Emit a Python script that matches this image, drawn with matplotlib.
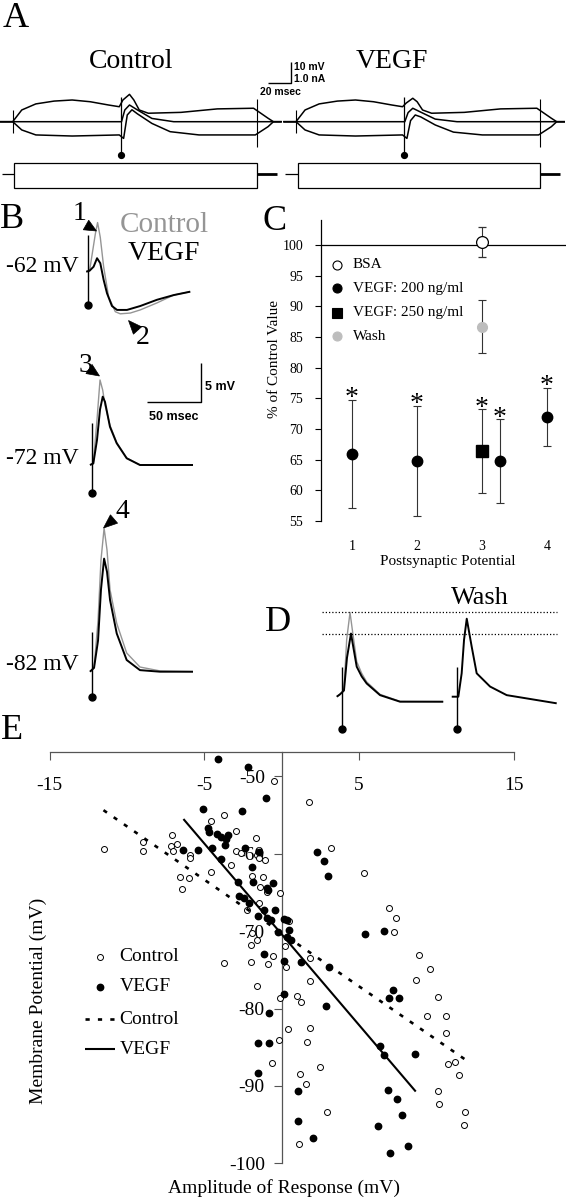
import numpy as np
import matplotlib
matplotlib.use('Agg')
import matplotlib.pyplot as plt
from matplotlib.patches import Rectangle, Polygon

plt.rcParams['font.family'] = ['Liberation Serif', 'DejaVu Serif']
plt.rcParams['axes.unicode_minus'] = False
plt.rcParams['lines.solid_capstyle'] = 'butt'

W, H = 566, 1200
GRAY = '#959595'
SANS = ['Liberation Sans', 'DejaVu Sans']

# ---------------- data ----------------
# A: responses to current steps (ms, mV re. rest)
a_up_t = [-10.8, 0, 7.7, 19.7, 35.2, 50.6, 66.0, 81.5, 90.7, 93.8, 99.4, 103.1, 107.7, 115.4, 143.2, 174.1, 205.0, 217.3, 221.9, 229]
a_up_ctl = [0, 0, 5.4, 8.2, 9.5, 10.0, 9.2, 7.7, 6.9, 10.0, 12.6, 10.0, 5.4, 3.9, 4.3, 5.9, 6.2, 1.6, 0, 0]
a_up_vegf = [0, 0, 5.4, 8.2, 9.5, 10.0, 9.2, 7.7, 6.9, 8.6, 10.8, 9.2, 5.4, 3.9, 4.3, 5.9, 6.2, 1.6, 0, 0]
a_mid_t = [-10.8, 92.6, 95.4, 99.4, 106.2, 118.5, 137, 229]
a_mid_ctl = [0, 0, 5.4, 7.7, 5.4, 1.5, 0, 0]
a_mid_vegf = [0, 0, 4.2, 6.2, 4.4, 1.2, 0, 0]
a_lo_t = [-10.8, 0, 7.7, 19.7, 50.6, 90.7, 94.4, 97.5, 101.5, 106.2, 118.5, 134, 158.6, 206.5, 217.3, 221.9, 229]
a_lo_ctl = [0, 0, -3.8, -6.1, -6.6, -6.1, -7.7, 3.1, 5.5, 3.6, -0.8, -4.6, -6.1, -6.1, -2.3, 0, 0]
a_lo_vegf = [0, 0, -3.8, -6.1, -6.6, -6.1, -7.7, 0.5, 3.1, 2.2, -1.5, -4.8, -6.1, -6.1, -2.3, 0, 0]
a_stim_t = 92.3
a_step_end = 207.9

# B: PSPs at three holding potentials (ms, mV re. baseline)
b1_t_ctl = [-1.9, 1.2, 6.5, 8.6, 11.1, 14.2, 18.8, 25.0, 29.6, 38.9, 48.1, 63.6, 79.0, 94.4]
b1_v_ctl = [0, 0.13, 4.83, 6.3, 4.4, 0.64, -3.2, -5.13, -5.4, -5.3, -4.9, -4.0, -3.0, -2.56]
b1_t_vegf = [-1.9, 1.2, 4.9, 8.1, 11.1, 14.2, 17.3, 21.9, 26.6, 35.8, 48.1, 63.6, 79.0, 94.4]
b1_v_vegf = [0, 0.13, 0.64, 1.73, 1.09, -1.05, -2.76, -4.4, -4.9, -4.9, -4.4, -3.6, -3.0, -2.56]
b2_t = [-1.6, 1.5, 4.9, 7.7, 10.2, 12.3, 16.9, 23.1, 32.4, 44.7, 93.8]
b2_v_ctl = [0, 0.2, 5.8, 10.9, 9.6, 7.7, 5.1, 2.9, 0.9, 0, 0]
b2_v_vegf = [0, 0.2, 3.2, 7.1, 8.76, 8.1, 4.9, 2.8, 0.86, 0, 0]
b3_t = [-1.9, 1.9, 5.6, 8.3, 11.2, 13.9, 16.7, 22.9, 32.1, 44.4, 63.0, 93.5]
b3_v_ctl = [0, 0.5, 6.6, 14.3, 18.4, 15.6, 10.5, 6.2, 2.4, 0.6, 0.1, 0]
b3_v_vegf = [0, 0.5, 4.0, 10.5, 14.5, 12.8, 9.2, 4.9, 1.5, 0.2, 0, 0]
b_labels = ['-62 mV', '-72 mV', '-82 mV']

# C: % of control value
c_psp = [1, 2, 3, 4]
c_vegf200 = [66.0, 64.8, 64.8, 72.0]
c_vegf200_err = [8.8, 9.0, 6.8, 4.7]
c_vegf250_psp = [3]
c_vegf250 = [66.4]
c_vegf250_err = [6.8]
c_bsa_psp = [3]
c_bsa = [100.5]
c_bsa_err = [2.5]
c_wash_psp = [3]
c_wash = [86.7]
c_wash_err = [4.3]

# D: wash-out
d_t_ctl = [-4.6, -1.6, 2.1, 4.6, 7.7, 10.7, 13.9, 18.5, 23.1, 35.5, 54.0, 94.0]
d_v_ctl = [0, 0.3, 0.8, 7.3, 10.8, 7.7, 4.5, 3.0, 1.9, 0.3, -0.6, -0.64]
d_t_vegf = [-4.6, -1.6, 2.1, 4.9, 8.6, 10.7, 13.9, 18.5, 23.1, 35.5, 54.0, 94.0]
d_v_vegf = [0, 0.3, 0.8, 5.0, 8.1, 6.4, 3.85, 2.6, 1.7, 0.2, -0.64, -0.64]
d_t_wash = [-4.6, 1.5, 4.6, 6.8, 9.3, 13.9, 18.5, 30.9, 46.3, 92.6]
d_v_wash = [0, 0, 3.0, 7.3, 10.0, 6.4, 3.0, 1.3, 0.2, -0.85]

# E: amplitude vs membrane potential
ctl_amp = [-0.51, 1.80, -11.47, -8.93, -8.97, -7.11, -7.15, -6.76, -6.99, -5.94, -5.94, -6.57, -5.99, -6.41,
           -4.55, -3.73, -2.92, -4.59, -3.27, -2.96, -2.61, -1.63, -1.59, -1.45, -1.05, -1.91, -1.21, -1.40,
           -0.93, -0.12, -2.22, -1.47, 0.47, 0.23, -1.98, -1.59, -1.91, 1.82, -3.73, -1.98, -0.89, 3.22,
           5.36, 6.95, 7.41, 7.27, 8.86, 9.60, -0.58, 0.30, -1.56, 1.87, -0.12, 0.98, 1.28, 8.69, 10.09,
           9.39, 10.65, 10.61, 0.42, 1.82, -0.16, 1.63, -0.63, 2.52, 1.17, 1.59, 10.79, 11.19, 11.49,
           10.14, 10.21, 2.92, 11.84, 11.77, 1.12]
ctl_vm = [-50.6, -53.3, -59.4, -58.5, -59.6, -57.6, -59.0, -58.7, -59.6, -60.2, -60.6, -63.0, -63.1, -64.5,
          -55.7, -55.0, -57.1, -62.3, -61.5, -59.6, -59.9, -57.9, -60.2, -60.5, -60.8, -62.9, -63.0, -64.3,
          -64.9, -65.0, -67.3, -66.3, -68.7, -71.9, -71.8, -71.1, -70.2, -73.4, -74.1, -74.0, -74.3, -59.2,
          -62.5, -67.0, -68.3, -70.1, -73.1, -74.9, -73.2, -74.6, -77.1, -76.4, -78.6, -78.4, -79.2, -76.3, -78.5,
          -81.0, -81.0, -83.1, -82.7, -82.5, -84.1, -84.3, -87.1, -87.5, -88.5, -89.8, -87.2, -86.9, -88.6,
          -90.6, -92.3, -93.4, -93.4, -95.0, -97.5]
vegf_amp = [-4.13, -2.15, -0.98, -5.08, -2.56, -4.77, -4.66, -4.19, -3.91, -3.60, -3.44, -3.67, -6.34, -5.41,
            -4.49, -2.36, -1.43, -3.89, -1.90, -2.83, -1.85, -0.96, -0.87, -0.52, -2.74, -2.43, -2.13, -1.54,
            -1.15, -0.91, -0.68, -0.45, 0.14, 0.37, -0.21, 0.49, 0.33, 0.61, 2.32, 2.78, 3.00, 5.40, 6.62,
            -1.15, 0.14, 3.06, 1.26, 7.23, 6.93, 7.58, 0.19, 2.90, -0.80, -1.55, -0.80, 6.34, 6.62, 8.61,
            -1.55, 1.08, 6.86, 7.46, 7.82, 1.08, 6.22, 2.06, 8.17, 7.04]
vegf_vm = [-47.8, -48.8, -52.8, -54.2, -54.4, -56.6, -57.2, -57.4, -57.8, -58.1, -57.6, -58.8, -59.5, -59.5,
           -59.2, -59.2, -59.8, -60.7, -61.7, -63.7, -63.7, -64.4, -64.7, -63.8, -65.5, -65.7, -66.3, -68.0,
           -67.2, -68.3, -68.6, -67.2, -68.4, -68.6, -70.1, -69.9, -70.8, -71.2, -59.8, -60.9, -62.9, -70.3, -70.0,
           -73.0, -73.9, -74.6, -74.0, -77.6, -78.6, -78.6, -78.1, -79.7, -80.6, -84.4, -84.5, -84.8, -86.0, -85.9,
           -88.3, -90.6, -90.5, -91.7, -93.7, -94.5, -95.2, -96.7, -97.7, -98.7]
ctl_fit = (-1.378, -70.22, -11.51, 11.96)   # slope, intercept, x from, x to
vegf_fit = (-2.345, -70.37, -6.34, 8.68)

# ---------------- figure ----------------
fig = plt.figure(figsize=(W / 100, H / 100), dpi=100)


def px_axes(x0, y0, x1, y1):
    ax = fig.add_axes([x0 / W, 1 - y1 / H, (x1 - x0) / W, (y1 - y0) / H])
    ax.patch.set_visible(False)
    return ax


def trace_axes(t0_px, base_py, tlim, vlim, px_ms, px_mv):
    ax = px_axes(t0_px + tlim[0] * px_ms, base_py - vlim[1] * px_mv,
                 t0_px + tlim[1] * px_ms, base_py - vlim[0] * px_mv)
    ax.set_xlim(tlim)
    ax.set_ylim(vlim)
    ax.axis('off')
    return ax


# ---- A ----
for t0, up, mid, lo in [(12.7, a_up_ctl, a_mid_ctl, a_lo_ctl),
                        (296.0, a_up_vegf, a_mid_vegf, a_lo_vegf)]:
    ax = trace_axes(t0, 121.7, (-10.8, 229.2), (-33.8, 16.9), 1.175, 2.17)
    ax.plot(a_up_t, up, color='k', lw=1.1)
    ax.plot(a_mid_t, mid, color='k', lw=1.1)
    ax.plot(a_lo_t, lo, color='k', lw=1.1)
    ax.plot([0, 0], [5.4, -5.3], color='k', lw=0.8)
    ax.plot([a_stim_t, a_stim_t], [11.5, -15.3], color='k', lw=0.9)
    ax.plot([a_stim_t], [-15.3], 'o', color='k', ms=4.2)
    ax.plot([a_step_end, a_step_end], [10.4, -11.5], color='k', lw=0.8)
    ax.add_patch(Rectangle((1.5, -30.7), a_step_end - 1.5, 11.8, fill=False, lw=0.9, ec='k'))
    ax.plot([-9.3, 1.5], [-24.1, -24.1], color='k', lw=0.9)
    ax.plot([a_step_end, 224.9], [-24.1, -24.1], color='k', lw=2.0)
    if t0 < 100:
        ax.plot([217.1, 237.1, 237.1], [17.7, 17.7, 27.7], color='k', lw=1.0, clip_on=False)

# ---- B ----
b_sets = [(88.3, 271.7, (-7, 8), b1_t_ctl, b1_v_ctl, b1_t_vegf, b1_v_vegf, (4.7, -4.3)),
          (91.7, 465.0, (-5, 13), b2_t, b2_v_ctl, b2_t, b2_v_vegf, (5.4, -3.6)),
          (92.0, 671.7, (-5, 20), b3_t, b3_v_ctl, b3_t, b3_v_vegf, (5.1, -3.2))]
for i, (sx, by, vlim, tc, vc, tv, vv, art) in enumerate(b_sets):
    ax = trace_axes(sx, by, (-10, 110), vlim, 1.08, 7.8)
    ax.plot(tc, vc, color=GRAY, lw=1.0)
    ax.plot(tv, vv, color='k', lw=1.4)
    ax.plot([0, 0], art, color='k', lw=1.0)
    ax.plot([0], [art[1]], 'o', color='k', ms=5)
    if i == 1:
        ax.plot([51.2, 101.2, 101.2], [8.1, 8.1, 13.1], color='k', lw=1.0, clip_on=False)

# ---- C ----
ax_c = px_axes(320.7, 220, 566, 521)
ax_c.set_xlim(0.518, 4.292)
ax_c.set_ylim(55, 104.1)
for s in ['top', 'right', 'bottom']:
    ax_c.spines[s].set_visible(False)
ax_c.spines['left'].set_linewidth(0.9)
ax_c.axhline(100, color='k', lw=0.9)
dodge = [0, 0, 0.27, 0]
x200 = [p + d for p, d in zip(c_psp, dodge)]
ebkw = dict(ecolor='#333333', elinewidth=0.8, capsize=3, capthick=0.8, ls='none')
ax_c.errorbar(x200, c_vegf200, yerr=c_vegf200_err, marker='o', ms=7.5, mfc='k', mec='k', **ebkw)
ax_c.errorbar(c_vegf250_psp, c_vegf250, yerr=c_vegf250_err, marker='s', ms=8, mfc='k', mec='k', **ebkw)
ax_c.errorbar(c_bsa_psp, c_bsa, yerr=c_bsa_err, marker='o', ms=8.5, mfc='white', mec='k', mew=0.9, **ebkw)
ax_c.errorbar(c_wash_psp, c_wash, yerr=c_wash_err, marker='o', ms=7, mfc='#bdbdbd', mec='#bdbdbd', **ebkw)
stars = list(zip(x200, np.add(c_vegf200, c_vegf200_err))) + \
    list(zip(c_vegf250_psp, np.add(c_vegf250, c_vegf250_err)))
for sx, top in stars:
    ax_c.text(sx, top - 0.9, '*', ha='center', va='baseline', fontsize=20)
ax_c.set_yticks(range(55, 101, 5))
ax_c.set_xticks(c_psp)
ax_c.tick_params(axis='y', direction='out', length=4.5, width=0.8, labelsize=10, pad=8)
ax_c.tick_params(axis='x', length=0, labelsize=10, pad=14)

# ---- D ----
ax_d1 = trace_axes(341.7, 696.7, (-10, 100), (-5, 14), 1.08, 7.8)
ax_d1.plot(d_t_ctl, d_v_ctl, color=GRAY, lw=1.0)
ax_d1.plot(d_t_vegf, d_v_vegf, color='k', lw=1.4)
ax_d1.plot([0, 0], [3.85, -4.2], color='k', lw=1.0)
ax_d1.plot([0], [-4.2], 'o', color='k', ms=5)
for lvl in [max(d_v_ctl), max(d_v_vegf)]:
    ax_d1.plot([-18.2, 199.4], [lvl, lvl], color='k', lw=0.9, ls=(0, (1, 1.6)), clip_on=False)
ax_d2 = trace_axes(456.7, 696.7, (-10, 100), (-5, 14), 1.08, 7.8)
ax_d2.plot(d_t_wash, d_v_wash, color='k', lw=1.4)
ax_d2.plot([0, 0], [3.85, -4.2], color='k', lw=1.0)
ax_d2.plot([0], [-4.2], 'o', color='k', ms=5)

# ---- E ----
ax_e = px_axes(49.5, 751.7, 513.5, 1163.3)
ax_e.set_xlim(-15, 15)
ax_e.set_ylim(-100, -46.8)
ax_e.spines['top'].set_visible(False)
ax_e.spines['right'].set_visible(False)
ax_e.spines['bottom'].set_position(('axes', 1.0))
ax_e.spines['left'].set_position(('data', 0))
for s in ['bottom', 'left']:
    ax_e.spines[s].set_color('#555555')
    ax_e.spines[s].set_linewidth(0.9)
ax_e.set_xticks([-15, -5, 5, 15])
ax_e.set_yticks([-50, -60, -70, -80, -90, -100])
ax_e.tick_params(axis='x', direction='out', length=6, width=0.8, color='#555555', labelsize=14, pad=12)
ax_e.tick_params(axis='y', direction='out', length=6, width=0.8, color='#555555', labelsize=14, pad=6)
ax_e.plot(ctl_amp, ctl_vm, 'o', ms=4.3, mfc='white', mec='k', mew=0.7, ls='none', zorder=3)
ax_e.plot(vegf_amp, vegf_vm, 'o', ms=4.6, mfc='k', mec='k', ls='none', zorder=3)
for (m, b, xa, xb), style, lw in [(ctl_fit, (0, (1.6, 3.1)), 1.9), (vegf_fit, '-', 1.5)]:
    xs = np.array([xa, xb])
    ax_e.plot(xs, m * xs + b, color='k', lw=lw, ls=style, zorder=4)

# ---- overlay: labels, legends, annotations ----
ov = fig.add_axes([0, 0, 1, 1], zorder=10)
ov.patch.set_visible(False)
ov.set_xlim(0, W)
ov.set_ylim(H, 0)
ov.axis('off')


def arrowhead(tip, base, half_w=5.5):
    tip, base = np.array(tip, float), np.array(base, float)
    d = tip - base
    n = np.array([-d[1], d[0]]) / np.hypot(*d) * half_w
    ov.add_patch(Polygon([tip, base + n, base - n], closed=True, fc='k', ec='k', lw=0.5))


for letter, x, y in [('A', 3, 2), ('B', 0, 203), ('C', 263, 205), ('D', 265, 606), ('E', 1, 714)]:
    ov.text(x, y, letter, fontsize=26, ha='left', va='top')

ov.text(131, 62, 'Control', fontsize=20, ha='center', va='center')
ov.text(392, 62, 'VEGF', fontsize=20, ha='center', va='center')
ov.text(294, 66.7, '10 mV', family=SANS, fontweight='bold', fontsize=7.5, ha='left', va='center')
ov.text(294, 79.3, '1.0 nA', family=SANS, fontweight='bold', fontsize=7.5, ha='left', va='center')
ov.text(280, 91.7, '20 msec', family=SANS, fontweight='bold', fontsize=7.5, ha='center', va='center')

ov.text(120, 225, 'Control', fontsize=21, color=GRAY, ha='left', va='center')
ov.text(128, 253, 'VEGF', fontsize=20, color='k', ha='left', va='center')
for lab, y in zip(b_labels, [267, 458, 665]):
    ov.text(6, y, lab, fontsize=17, ha='left', va='center')
ov.text(205, 387, '5 mV', family=SANS, fontweight='bold', fontsize=9, ha='left', va='center')
ov.text(174, 417, '50 msec', family=SANS, fontweight='bold', fontsize=9, ha='center', va='center')
for num, (nx_, ny_), tip, base in [('1', (80, 214), (96.5, 231), (86, 225)),
                                    ('2', (143, 337), (128.5, 320.5), (137.5, 330.5)),
                                    ('3', (85, 366), (99.5, 376), (89, 369)),
                                    ('4', (122, 511), (103.5, 528), (114, 519))]:
    ov.text(nx_, ny_, num, fontsize=20, ha='center', va='center')
    arrowhead(tip, base)

# C legend and labels
for y, lab, mk, fc, ec in [(265, 'BSA', 'o', 'white', 'k'),
                           (288.3, 'VEGF: 200 ng/ml', 'o', 'k', 'k'),
                           (312.7, 'VEGF: 250 ng/ml', 's', 'k', 'k'),
                           (336, 'Wash', 'o', '#bdbdbd', '#bdbdbd')]:
    ov.plot([337], [y], marker=mk, ms=6.5, mfc=fc, mec=ec, mew=0.8)
    ov.text(352.7, y, lab, fontsize=11, ha='left', va='center')
ov.text(274, 359.5, '% of Control Value', fontsize=11, rotation=90, ha='center', va='center')
ov.text(448, 562, 'Postsynaptic Potential', fontsize=11, ha='center', va='center')

ov.text(480, 598, 'Wash', fontsize=19, ha='center', va='center')

# E legend and labels
ov.plot([99.5], [956.7], 'o', ms=4.3, mfc='white', mec='k', mew=0.7)
ov.plot([99.5], [986.7], 'o', ms=4.6, color='k')
ov.plot([85, 115], [1019.3, 1019.3], color='k', lw=1.9, ls=(0, (1.6, 3.1)))
ov.plot([85, 115], [1049.3, 1049.3], color='k', lw=1.5)
for y, lab in zip([956.7, 986.7, 1019.3, 1049.3], ['Control', 'VEGF', 'Control', 'VEGF']):
    ov.text(119.4, y, lab, fontsize=14, ha='left', va='center')
ov.text(38, 1001, 'Membrane Potential (mV)', fontsize=14, rotation=90, ha='center', va='center')
ov.text(284, 1188, 'Amplitude of Response (mV)', fontsize=14, ha='center', va='center')

fig.savefig('out.png', dpi=100)
